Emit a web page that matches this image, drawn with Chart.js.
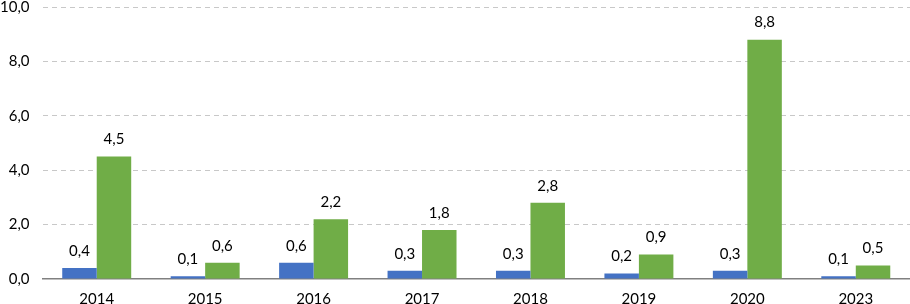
<!DOCTYPE html>
<html><head><meta charset="utf-8">
<script src="https://cdn.jsdelivr.net/npm/chart.js@4/dist/chart.umd.min.js"></script>
<style>html,body{margin:0;padding:0;background:#fff;overflow:hidden}#wrap{position:relative;top:-15px;left:-2px;width:912px;height:319px}</style>
</head><body><div id="wrap"><canvas id="c"></canvas></div>
<script>
const categories = ['2014','2015','2016','2017','2018','2019','2020','2023'];
const seriesBlue = [0.4, 0.1, 0.6, 0.3, 0.3, 0.2, 0.3, 0.1];
const seriesGreen = [4.5, 0.6, 2.2, 1.8, 2.8, 0.9, 8.8, 0.5];
const yTicks = [0, 2, 4, 6, 8, 10];

const fmt = v => v.toFixed(1).replace('.', ',');
const FONT = 'Lato, "Open Sans", sans-serif';

const labelPlugin = {
  id: 'vlabels',
  afterDatasetsDraw(chart) {
    const ctx = chart.ctx;
    ctx.save();
    ctx.fillStyle = '#000';
    ctx.font = '15px ' + FONT;
    ctx.textAlign = 'center';
    ctx.textBaseline = 'middle';
    chart.data.datasets.forEach((ds, i) => {
      chart.getDatasetMeta(i).data.forEach((bar, j) => {
        ctx.fillText(fmt(ds.data[j]), bar.x, bar.y - 17);
      });
    });
    ctx.restore();
  }
};

new Chart(document.getElementById('c'), {
  type: 'bar',
  data: {
    labels: categories,
    datasets: [
      {data: seriesBlue, backgroundColor: '#4472C4', categoryPercentage: 0.636, barPercentage: 1},
      {data: seriesGreen, backgroundColor: '#70AD47', categoryPercentage: 0.636, barPercentage: 1}
    ]
  },
  options: {
    responsive: true, maintainAspectRatio: false, animation: false,
    layout: {padding: {top: 0, right: 0, left: -11, bottom: -15}},
    plugins: {legend: {display: false}, tooltip: {enabled: false}},
    scales: {
      x: {
        grid: {display: false, drawTicks: false},
        border: {display: true, color: '#808080', width: 1.5},
        ticks: {color: '#000', font: {family: FONT, size: 15}, padding: 11}
      },
      y: {
        min: 0, max: 10,
        afterBuildTicks: ax => { ax.ticks = yTicks.map(v => ({value: v})); },
        grid: {color: c => c.tick.value === 0 ? 'rgba(0,0,0,0)' : '#c8c8c8', drawTicks: false, lineWidth: 1},
        border: {display: false, dash: [5, 4]},
        ticks: {color: '#000', font: {family: FONT, size: 15}, padding: 13, callback: v => fmt(v)}
      }
    }
  },
  plugins: [labelPlugin]
});
</script></body></html>
